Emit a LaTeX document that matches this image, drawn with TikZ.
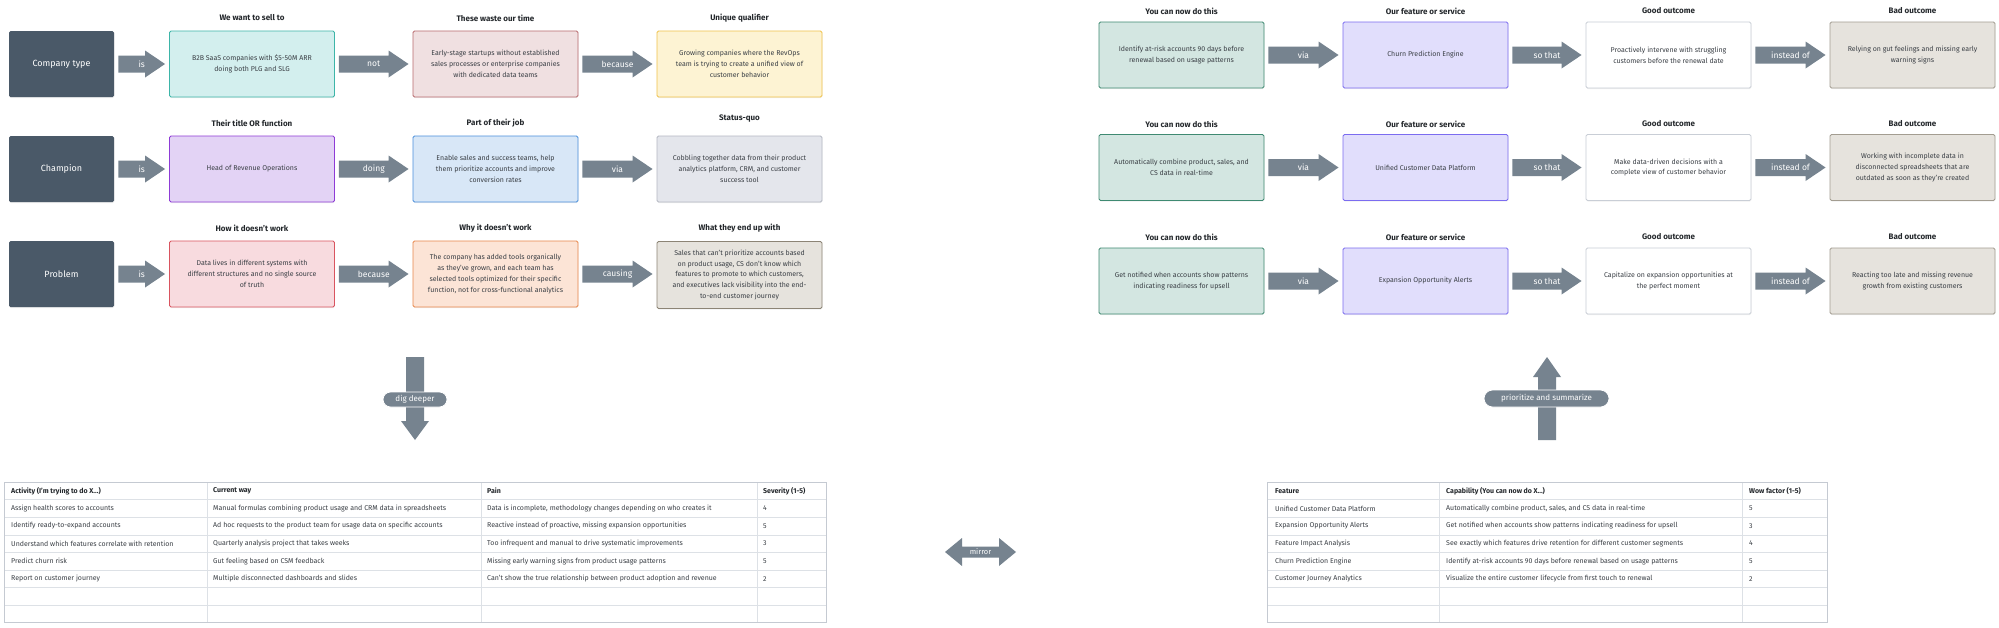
\documentclass[tikz,border=0pt]{standalone}
\usepackage{fontspec}
\setmainfont{Fira Sans}
\usetikzlibrary{calc,shadows}
\definecolor{darkb}{HTML}{4A5968}
\definecolor{arr}{HTML}{76838F}
\definecolor{txt}{HTML}{3A3F45}
\definecolor{ttlc}{HTML}{24282C}
\definecolor{tealf}{HTML}{D3EFEE}\definecolor{tealb}{HTML}{3DB5A8}
\definecolor{rosef}{HTML}{F0E0E1}\definecolor{roseb}{HTML}{B86A6E}
\definecolor{yelf}{HTML}{FDF3D3}\definecolor{yelb}{HTML}{F0C24A}
\definecolor{purf}{HTML}{E3D3F5}\definecolor{purb}{HTML}{8E3BD6}
\definecolor{bluf}{HTML}{D8E7F7}\definecolor{blub}{HTML}{4A8FDB}
\definecolor{grf}{HTML}{E4E6EC}\definecolor{grb}{HTML}{B4B8C2}
\definecolor{redf}{HTML}{F8DBDF}\definecolor{redb}{HTML}{D9545F}
\definecolor{orf}{HTML}{FCE4D6}\definecolor{orb}{HTML}{E8864A}
\definecolor{tanf}{HTML}{E6E3DD}\definecolor{tanb}{HTML}{8C8475}
\definecolor{grnf}{HTML}{D3E6E1}\definecolor{grnb}{HTML}{3F8A72}
\definecolor{lavf}{HTML}{E1DEFC}\definecolor{lavb}{HTML}{7B6CF0}
\definecolor{whb}{HTML}{C9CED6}
\definecolor{tabo}{HTML}{C5CAD2}\definecolor{tabi}{HTML}{DDE1E6}
\tikzset{
  base/.style={rounded corners=1.5pt, line width=0.9pt, align=center, inner sep=0pt,
    font=\fontsize{7}{10.8}\selectfont, text=txt,
    drop shadow={opacity=0.12, shadow xshift=0.4pt, shadow yshift=-1pt}},
  cbox/.style={base, minimum width=165pt, minimum height=66pt},
  dbox/.style={base, fill=darkb, draw=none, text=white, minimum width=105pt, minimum height=66pt,
    font=\fontsize{9}{11}\selectfont},
  ttl/.style={font=\bfseries\fontsize{8}{10}\selectfont, text=ttlc, inner sep=0pt},
  alab/.style={font=\fontsize{8.5}{10}\selectfont, text=white, inner sep=0pt},
  pill/.style={fill=arr, draw=white, line width=0.8pt, rounded corners=7.5pt, text=white,
    font=\fontsize{8}{10}\selectfont, inner sep=0pt},
  cellt/.style={font=\fontsize{7}{9}\selectfont, text=txt, anchor=west, inner sep=0pt},
  cellh/.style={font=\bfseries\fontsize{7}{9}\selectfont, text=ttlc, anchor=west, inner sep=0pt},
}
% block arrow from node #1 to node #2, label node name #3, text #4
\newcommand\barr[4]{%
  \path[fill=arr] let \p1=(#1.east), \p2=(#2.west) in
    (\x1+4pt,\y1-8.5pt) -- (\x2-24pt,\y1-8.5pt) -- (\x2-24pt,\y1-13.5pt) -- (\x2-4pt,\y1)
    -- (\x2-24pt,\y1+13.5pt) -- (\x2-24pt,\y1+8.5pt) -- (\x1+4pt,\y1+8.5pt) -- cycle;
  \path let \p1=(#1.east), \p2=(#2.west) in node[alab] (#3) at ({(\x1+\x2)/2},\y1) {#4};
}
\begin{document}
\begin{tikzpicture}[x=1pt,y=-1pt]
\useasboundingbox (0,0) rectangle (1999,627);
\fill[white] (0,0) rectangle (1999,627);

% ---------------- Left section ----------------
% Row 1
\node[dbox] (L11) at (61.5,64) {Company type};
\node[cbox, fill=tealf, draw=tealb] (L12) at (252,64) {B2B SaaS companies with \$5-50M ARR\\doing both PLG and SLG};
\node[cbox, fill=rosef, draw=roseb] (L13) at (495.5,64) {Early-stage startups without established\\sales processes or enterprise companies\\with dedicated data teams};
\node[cbox, fill=yelf, draw=yelb] (L14) at (739.5,64) {Growing companies where the RevOps\\team is trying to create a unified view of\\customer behavior};
\node[ttl] (T12) at (252,18) {We want to sell to};
\node[ttl] (T13) at (495.5,18) {These waste our time};
\node[ttl] (T14) at (739.5,18) {Unique qualifier};
\barr{L11}{L12}{A11}{is}
\barr{L12}{L13}{A12}{not}
\barr{L13}{L14}{A13}{because}

% Row 2
\node[dbox] (L21) at (61.5,169) {Champion};
\node[cbox, fill=purf, draw=purb] (L22) at (252,169) {Head of Revenue Operations};
\node[cbox, fill=bluf, draw=blub] (L23) at (495.5,169) {Enable sales and success teams, help\\them prioritize accounts and improve\\conversion rates};
\node[cbox, fill=grf, draw=grb] (L24) at (739.5,169) {Cobbling together data from their product\\analytics platform, CRM, and customer\\success tool};
\node[ttl] (T22) at (252,123) {Their title OR function};
\node[ttl] (T23) at (495.5,123) {Part of their job};
\node[ttl] (T24) at (739.5,119) {Status-quo};
\barr{L21}{L22}{A21}{is}
\barr{L22}{L23}{A22}{doing}
\barr{L23}{L24}{A23}{via}

% Row 3
\node[dbox] (L31) at (61.5,274) {Problem};
\node[cbox, fill=redf, draw=redb] (L32) at (252,274) {Data lives in different systems with\\different structures and no single source\\of truth};
\node[cbox, fill=orf, draw=orb] (L33) at (495.5,274) {The company has added tools organically\\as they've grown, and each team has\\selected tools optimized for their specific\\function, not for cross-functional analytics};
\node[cbox, fill=tanf, draw=tanb, minimum height=67pt] (L34) at (739.5,275) {Sales that can't prioritize accounts based\\on product usage, CS don't know which\\features to promote to which customers,\\and executives lack visibility into the end-\\to-end customer journey};
\node[ttl] (T32) at (252,228) {How it doesn't work};
\node[ttl] (T33) at (495.5,228) {Why it doesn't work};
\node[ttl] (T34) at (739.5,228) {What they end up with};
\barr{L31}{L32}{A31}{is}
\barr{L32}{L33}{A32}{because}
\barr{L33}{L34}{A33}{causing}

% ---------------- Right section ----------------
\foreach \r/\y/\ty/\a/\b/\c/\d in {
  1/55/11/{Identify at-risk accounts 90 days before\\renewal based on usage patterns}/{Churn Prediction Engine}/{Proactively intervene with struggling\\customers before the renewal date}/{Relying on gut feelings and missing early\\warning signs},
  2/167.5/124/{Automatically combine product, sales, and\\CS data in real-time}/{Unified Customer Data Platform}/{Make data-driven decisions with a\\complete view of customer behavior}/{Working with incomplete data in\\disconnected spreadsheets that are\\outdated as soon as they're created},
  3/281/237/{Get notified when accounts show patterns\\indicating readiness for upsell}/{Expansion Opportunity Alerts}/{Capitalize on expansion opportunities at\\the perfect moment}/{Reacting too late and missing revenue\\growth from existing customers}}{
  \node[cbox, fill=grnf, draw=grnb] (R\r1) at (1181.5,\y) {\a};
  \node[cbox, fill=lavf, draw=lavb] (R\r2) at (1425.5,\y) {\b};
  \node[cbox, fill=white, draw=whb] (R\r3) at (1668.5,\y) {\c};
  \node[cbox, fill=tanf, draw=tanb!80] (R\r4) at (1912.5,\y) {\d};
  \node[ttl] (RT\r1) at (1181.5,\ty) {You can now do this};
  \node[ttl] (RT\r2) at (1425.5,\ty) {Our feature or service};
  \node[ttl] (RT\r3) at (1668.5,\ty) {Good outcome};
  \node[ttl] (RT\r4) at (1912.5,\ty) {Bad outcome};
  \barr{R\r1}{R\r2}{RA\r1}{via}
  \barr{R\r2}{R\r3}{RA\r2}{so that}
  \barr{R\r3}{R\r4}{RA\r3}{instead of}
}

% ---------------- Vertical / mirror arrows ----------------
\coordinate (ddtop) at (415,357);
\coordinate (ddtip) at (415,440);
\fill[arr] ($(ddtop)+(-9,0)$) -- ($(ddtop)+(9,0)$) -- ($(ddtip)+(9,-19)$) -- ($(ddtip)+(14,-19)$)
  -- (ddtip) -- ($(ddtip)+(-14,-19)$) -- ($(ddtip)+(-9,-19)$) -- cycle;
\node[pill, minimum width=64pt, minimum height=15pt] (dd) at (415,399.5) {dig deeper};

\coordinate (pbot) at (1547,440);
\coordinate (ptip) at (1547,357);
\fill[arr] ($(pbot)+(-9,0)$) -- ($(pbot)+(9,0)$) -- ($(ptip)+(9,20)$) -- ($(ptip)+(14,20)$)
  -- (ptip) -- ($(ptip)+(-14,20)$) -- ($(ptip)+(-9,20)$) -- cycle;
\node[pill, minimum width=125pt, minimum height=17pt, rounded corners=8.5pt] (ps) at (1546.5,398.5) {prioritize and summarize};

\coordinate (ml) at (945,552);
\coordinate (mr) at (1016,552);
\fill[arr] (ml) -- ($(ml)+(17,-14)$) -- ($(ml)+(17,-5.5)$) -- ($(mr)+(-17,-5.5)$) -- ($(mr)+(-17,-14)$)
  -- (mr) -- ($(mr)+(-17,14)$) -- ($(mr)+(-17,5.5)$) -- ($(ml)+(17,5.5)$) -- ($(ml)+(17,14)$) -- cycle;
\node[alab, font=\fontsize{7.5}{9}\selectfont] (mir) at (980.5,552) {mirror};

% ---------------- Left table ----------------
\foreach \i in {1,...,7} \draw[tabi, line width=0.6pt] (4,482+17.6*\i) -- (826,482+17.6*\i);
\foreach \x in {207,481,757} \draw[tabi, line width=0.6pt] (\x,482) -- (\x,622.8);
\draw[tabo, line width=0.9pt] (4,482) rectangle (826,622.8);
\node[cellh] (lh1) at (11,490.8) {Activity (I'm trying to do X...)};
\node[cellh] (lh2) at (213,490.8) {Current way};
\node[cellh] (lh3) at (487,490.8) {Pain};
\node[cellh] (lh4) at (763,490.8) {Severity (1-5)};
\foreach \a/\b/\c/\d [count=\i] in {
  {Assign health scores to accounts}/{Manual formulas combining product usage and CRM data in spreadsheets}/{Data is incomplete, methodology changes depending on who creates it}/4,
  {Identify ready-to-expand accounts}/{Ad hoc requests to the product team for usage data on specific accounts}/{Reactive instead of proactive, missing expansion opportunities}/5,
  {Understand which features correlate with retention}/{Quarterly analysis project that takes weeks}/{Too infrequent and manual to drive systematic improvements}/3,
  {Predict churn risk}/{Gut feeling based on CSM feedback}/{Missing early warning signs from product usage patterns}/5,
  {Report on customer journey}/{Multiple disconnected dashboards and slides}/{Can't show the true relationship between product adoption and revenue}/2}{
  \node[cellt] (la\i) at (11,490.8+17.6*\i) {\a};
  \node[cellt] (lb\i) at (213,490.8+17.6*\i) {\b};
  \node[cellt] (lc\i) at (487,490.8+17.6*\i) {\c};
  \node[cellt] (ld\i) at (763,490.8+17.6*\i) {\d};
}

% ---------------- Right table ----------------
\foreach \i in {1,...,7} \draw[tabi, line width=0.6pt] (1267,482+17.6*\i) -- (1827,482+17.6*\i);
\foreach \x in {1439,1742} \draw[tabi, line width=0.6pt] (\x,482) -- (\x,622.8);
\draw[tabo, line width=0.9pt] (1267,482) rectangle (1827,622.8);
\node[cellh] (rh1) at (1275,490.8) {Feature};
\node[cellh] (rh2) at (1446,490.8) {Capability (You can now do X...)};
\node[cellh] (rh3) at (1749,490.8) {Wow factor (1-5)};
\foreach \a/\b/\c [count=\i] in {
  {Unified Customer Data Platform}/{Automatically combine product, sales, and CS data in real-time}/5,
  {Expansion Opportunity Alerts}/{Get notified when accounts show patterns indicating readiness for upsell}/3,
  {Feature Impact Analysis}/{See exactly which features drive retention for different customer segments}/4,
  {Churn Prediction Engine}/{Identify at-risk accounts 90 days before renewal based on usage patterns}/5,
  {Customer Journey Analytics}/{Visualize the entire customer lifecycle from first touch to renewal}/2}{
  \node[cellt] (ra\i) at (1275,490.8+17.6*\i) {\a};
  \node[cellt] (rb\i) at (1446,490.8+17.6*\i) {\b};
  \node[cellt] (rc\i) at (1749,490.8+17.6*\i) {\c};
}
\end{tikzpicture}
\end{document}
